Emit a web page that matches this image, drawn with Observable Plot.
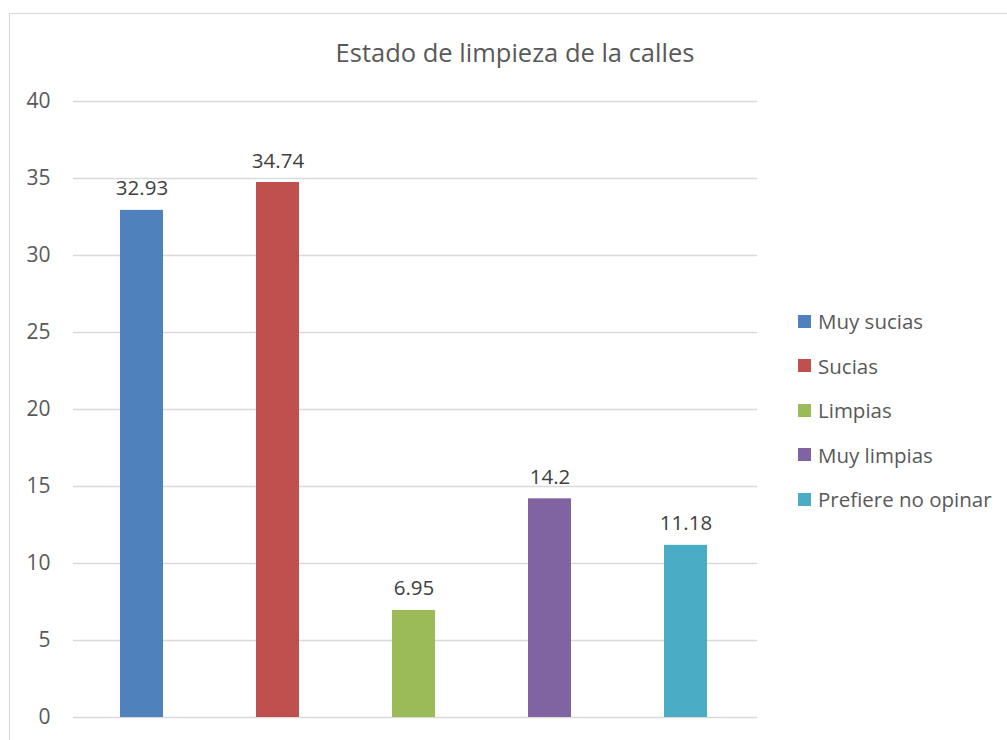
<!DOCTYPE html>
<html><head><meta charset="utf-8">
<script src="https://cdn.jsdelivr.net/npm/d3@7"></script>
<script src="https://cdn.jsdelivr.net/npm/@observablehq/plot@0.6"></script>
<style>
body{margin:0;background:#fff;font-family:"Open Sans",sans-serif;}
#wrap{position:relative;width:1007px;height:740px;overflow:hidden;}
#border{position:absolute;left:9px;top:13px;width:1020px;height:760px;border:1.5px solid #d9d9d9;box-sizing:border-box;}
#title{position:absolute;left:0;width:1030px;top:35px;text-align:center;font-size:25.5px;color:#595959;}
#chart{position:absolute;left:0;top:0;}
#legend{position:absolute;left:798px;top:299px;color:#595959;font-size:20.5px;}
.item{display:flex;align-items:center;height:44.5px;margin:0;}
.sw{width:13px;height:13px;margin-right:7px;}
</style></head>
<body><div id="wrap"><div id="border"></div><div id="title">Estado de limpieza de la calles</div><div id="chart"></div><div id="legend"></div></div>
<script>
const categories = ["Muy sucias","Sucias","Limpias","Muy limpias","Prefiere no opinar"];
const values = [32.93, 34.74, 6.95, 14.2, 11.18];
const labels = ["32.93","34.74","6.95","14.2","11.18"];
const colors = ["#4f81bd","#c0504d","#9bbb59","#8064a2","#4bacc6"];
const yTicks = [0,5,10,15,20,25,30,35,40];

const data = categories.map((c,i)=>({cat:c, value:values[i], label:labels[i]}));

const plot = Plot.plot({
  width: 790, height: 740,
  marginLeft: 71, marginRight: 35, marginTop: 101, marginBottom: 23,
  style: {fontFamily: "'Open Sans', sans-serif", fontSize: "20px", color: "#595959", background: "transparent"},
  x: {domain: categories, paddingInner: 0.686, paddingOuter: 0.343, axis: null},
  y: {domain: [0,40], ticks: yTicks, label: null, axis: null},
  color: {domain: categories, range: colors},
  marks: [
    Plot.ruleY(yTicks, {stroke: "#d9d9d9", strokeWidth: 1.5, insetLeft: 2, insetRight: -2}),
    Plot.axisY({ticks: yTicks, tickSize: 0, tickPadding: 21, label: null, fontSize: 21, fill: "#595959"}),
    Plot.barY(data, {x: "cat", y: "value", fill: "cat"}),
    Plot.text(data, {x: "cat", y: "value", text: "label", lineAnchor: "bottom", dy: -15, fontSize: 20.5, fill: "#404040"})
  ]
});
document.getElementById("chart").appendChild(plot);

const leg = document.getElementById("legend");
categories.forEach((c,i)=>{
  const d = document.createElement("div"); d.className="item";
  const s = document.createElement("div"); s.className="sw"; s.style.background=colors[i];
  const t = document.createElement("span"); t.textContent=c;
  d.appendChild(s); d.appendChild(t); leg.appendChild(d);
});
</script></body></html>
